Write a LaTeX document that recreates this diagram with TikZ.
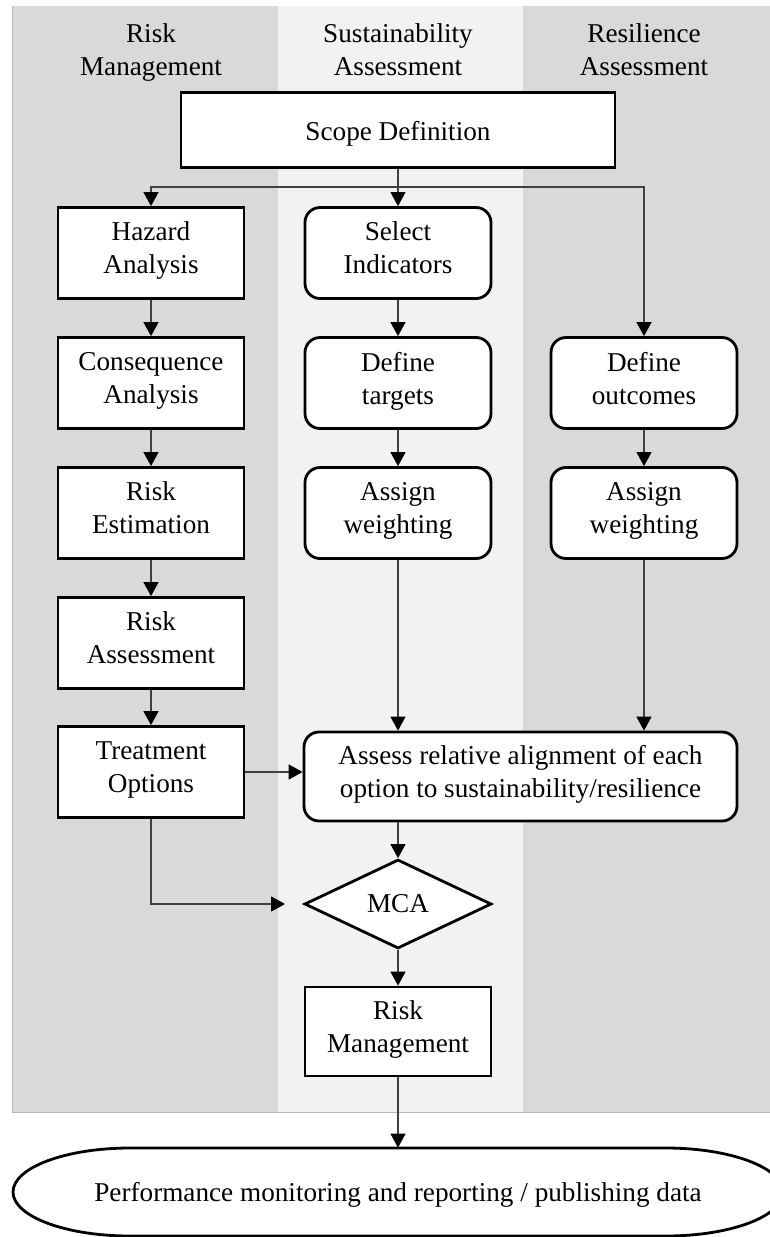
\documentclass[tikz,border=0pt]{standalone}
\usepackage{fontspec}
\setmainfont{Liberation Serif}
\usetikzlibrary{shapes.geometric,arrows.meta}
\definecolor{lanedark}{HTML}{D9D9D9}
\definecolor{lanelight}{HTML}{F2F2F2}
\definecolor{lanerule}{HTML}{B8B8B8}
\definecolor{conn}{HTML}{404040}
\begin{document}
\begin{tikzpicture}[x=0.5pt,y=-0.5pt,
  txt/.style={font=\fontsize{13.6}{16.5}\selectfont},
  box/.style={txt,draw=black,line width=1.4pt,fill=white,minimum width=93pt,minimum height=45.5pt,align=center,inner sep=2pt,
    execute at begin node={\rule{0pt}{15.5pt}},execute at end node=\strut},
  rbox/.style={box,rounded corners=7.5pt},
  hdr/.style={txt,align=center,inner sep=0pt,execute at begin node=\strut,execute at end node=\strut},
  arr/.style={draw=conn,line width=0.65pt,-{Triangle[length=7pt,width=7.5pt,color=black]}}]
\useasboundingbox (0,0) rectangle (770,1237);
% lanes
\fill[lanedark] (12,6) rectangle (278,1112);
\fill[lanelight] (278,6) rectangle (523,1112);
\fill[lanedark] (523,6) rectangle (772,1112);
\draw[lanerule,line width=0.5pt] (772,1112) -- (12,1112) -- (12,6);
% headers
\node[hdr] (h1) at (151,55) {Risk\\Management};
\node[hdr] (h2) at (398,55) {Sustainability\\Assessment};
\node[hdr] (h3) at (644,55) {Resilience\\Assessment};
% nodes
\node[box,minimum width=217pt,minimum height=37.5pt] (scope) at (398,130) {Scope Definition};
\node[box] (haz) at (151,253) {Hazard\\Analysis};
\node[box] (cons) at (151,383) {Consequence\\Analysis};
\node[box] (est) at (151,513) {Risk\\Estimation};
\node[box] (rass) at (151,643) {Risk\\Assessment};
\node[box] (treat) at (151,772) {Treatment\\Options};
\node[rbox] (sel) at (398,253) {Select\\Indicators};
\node[rbox] (deft) at (398,383) {Define\\targets};
\node[rbox] (aw1) at (398,513) {Assign\\weighting};
\node[rbox] (defo) at (644,383) {Define\\outcomes};
\node[rbox] (aw2) at (644,513) {Assign\\weighting};
\node[rbox,minimum width=216.5pt,minimum height=44.5pt] (assess) at (520.5,776.5) {Assess relative alignment of each\\option to sustainability/resilience};
\node[txt,draw=black,line width=1.4pt,fill=white,diamond,minimum width=93.5pt,minimum height=44.5pt,inner sep=0pt] (mca) at (398,904) {MCA};
\node[box,minimum height=44.5pt] (rm) at (398,1031.5) {Risk\\Management};
% terminal
\draw[line width=1.4pt,fill=white] (130,1148) -- (666,1148)
  arc[start angle=-90,end angle=90,x radius=117,y radius=44] -- (130,1236)
  arc[start angle=90,end angle=270,x radius=117,y radius=44] -- cycle;
\node[txt,minimum width=385pt,minimum height=47pt,inner sep=0pt] (perf) at (398,1195) {Performance monitoring and reporting / publishing data};
% connectors
\coordinate (br) at (398,187);
\draw[arr] (scope.south) -- (sel.north);
\draw[arr] (br) -| (haz.north);
\draw[arr] (br) -| (defo.north);
\draw[arr] (haz) -- (cons);
\draw[arr] (cons) -- (est);
\draw[arr] (est) -- (rass);
\draw[arr] (rass) -- (treat);
\draw[arr] (sel) -- (deft);
\draw[arr] (deft) -- (aw1);
\draw[arr] (defo) -- (aw2);
\draw[arr] (aw1.south) -- (aw1.south |- assess.north);
\draw[arr] (aw2.south) -- (aw2.south |- assess.north);
\draw[arr] (treat.east) -- (treat.east -| assess.west);
\draw[arr,shorten >=9pt] (treat.south) |- (mca.west);
\draw[arr] (assess.south -| mca.north) -- (mca.north);
\draw[arr] (mca.south) -- (rm.north);
\draw[arr] (rm.south) -- (perf.north);
\end{tikzpicture}
\end{document}
